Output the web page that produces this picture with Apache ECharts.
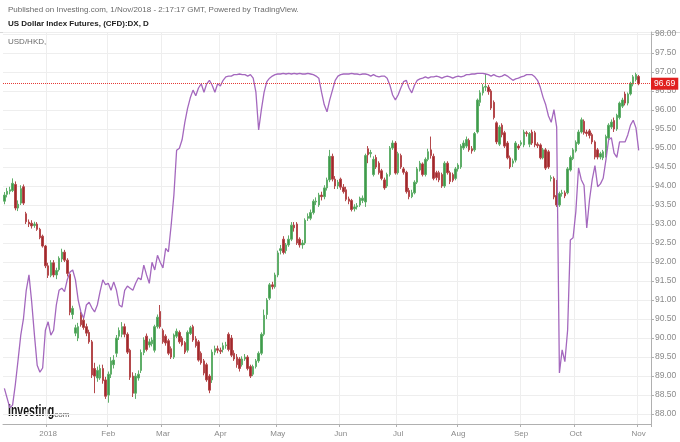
<!DOCTYPE html>
<html><head><meta charset="utf-8">
<script src="https://cdn.jsdelivr.net/npm/echarts@6/dist/echarts.min.js"></script>
<style>html,body{margin:0;padding:0;background:#fff}#c{width:680px;height:442px}</style>
</head><body><div id="c"></div>
<script>
// Trading days shown on the chart (year-month, day numbers)
const tradingDays = [
  ['2017-12', [7,8,11,12,13,14,15,18,19,20,21,22,26,27,28,29]],
  ['2018-01', [2,3,4,5,8,9,10,11,12,15,16,17,18,19,22,23,24,25,26,29,30,31]],
  ['2018-02', [1,2,5,6,7,8,9,12,13,14,15,16,19,20,21,22,23,26,27,28]],
  ['2018-03', [1,2,5,6,7,8,9,12,13,14,15,16,19,20,21,22,23,26,27,28,29]],
  ['2018-04', [2,3,4,5,6,9,10,11,12,13,16,17,18,19,20,23,24,25,26,27,30]],
  ['2018-05', [1,2,3,4,7,8,9,10,11,14,15,16,17,18,21,22,23,24,25,28,29,30,31]],
  ['2018-06', [1,4,5,6,7,8,11,12,13,14,15,18,19,20,21,22,25,26,27,28,29]],
  ['2018-07', [2,3,4,5,6,9,10,11,12,13,16,17,18,19,20,23,24,25,26,27,30,31]],
  ['2018-08', [1,2,3,6,7,8,9,10,13,14,15,16,17,20,21,22,23,24,27,28,29,30,31]],
  ['2018-09', [3,4,5,6,7,10,11,12,13,14,17,18,19,20,21,24,25,26,27,28]],
  ['2018-10', [1,2,3,4,5,8,9,10,11,12,15,16,17,18,19,22,23,24,25,26,29,30,31]],
  ['2018-11', [1,2,5,6,7]]
];
// month tick labels
const monthTickLabels = {'01':'2018','02':'Feb','03':'Mar','04':'Apr','05':'May','06':'Jun','07':'Jul','08':'Aug','09':'Sep','10':'Oct','11':'Nov'};

// US Dollar Index Futures daily candles: [open, close, low, high]
const dxCandles = [
[93.60,93.76,93.52,93.84],[93.78,93.86,93.70,93.95],[93.86,93.90,93.78,93.98],[93.88,94.07,93.84,94.20],
[94.04,93.42,93.36,94.12],[93.42,93.52,93.34,93.62],[93.55,93.93,93.50,94.02],[93.98,93.55,93.50,94.04],
[93.27,93.06,93.00,93.32],[93.05,93.00,92.92,93.12],[93.02,92.95,92.88,93.10],[92.96,93.00,92.90,93.06],
[93.00,92.86,92.82,93.05],[92.86,92.64,92.60,92.90],[92.68,92.42,92.38,92.72],[92.42,91.90,91.84,92.45],
[91.90,91.65,91.58,91.98],[91.65,91.98,91.60,92.05],[91.98,91.66,91.60,92.05],[91.66,91.78,91.55,91.85],
[91.80,92.10,91.75,92.15],[92.08,92.26,92.00,92.35],[92.26,92.05,92.00,92.32],[92.05,91.70,91.62,92.10],
[91.68,90.68,90.60,91.72],[90.62,90.78,90.50,90.85],[90.13,90.27,90.05,90.35],[90.00,90.30,89.92,90.40],
[90.62,90.35,90.30,90.70],[90.47,90.28,90.22,90.55],[90.30,90.13,90.05,90.38],[90.15,89.90,89.85,90.22],
[89.90,89.03,88.95,89.95],[89.20,89.00,88.55,89.35],[88.95,89.15,88.85,89.25],[88.95,89.20,88.90,89.30],
[89.20,88.88,88.80,89.30],[88.90,88.47,88.40,88.98],
[88.50,89.05,88.30,89.12],[89.05,89.40,88.95,89.50],[89.30,89.42,89.20,89.55],[89.60,90.00,89.50,90.08],
[90.05,90.20,89.95,90.28],[90.10,90.30,90.02,90.42],[90.30,90.10,90.02,90.38],[90.10,89.63,89.58,90.15],
[89.68,88.97,88.90,89.72],[89.00,88.55,88.45,89.10],[88.55,89.00,88.40,89.08],[88.95,89.05,88.88,89.15],
[89.15,89.62,89.08,89.70],[89.62,89.95,89.55,90.02],[90.05,89.70,89.65,90.12],[89.82,89.90,89.75,89.98],
[89.85,89.95,89.78,90.02],[89.68,90.30,89.62,90.35],[90.30,90.55,90.25,90.62],[90.70,90.30,90.25,90.87],
[90.20,89.90,89.85,90.25],[90.05,89.87,89.80,90.10],[89.93,89.60,89.55,89.98],[89.72,89.50,89.45,89.78],
[89.50,90.08,89.45,90.12],[90.05,90.18,90.00,90.25],[90.15,89.90,89.85,90.20],[90.00,89.82,89.78,90.05],
[89.88,89.63,89.58,89.92],[89.68,90.15,89.62,90.20],[90.12,90.27,90.08,90.32],[90.30,89.95,89.90,90.35],
[89.98,89.80,89.75,90.05],[89.90,89.42,89.38,89.95],[89.60,89.35,89.30,89.65],[89.40,89.08,89.02,89.45],
[89.30,88.90,88.85,89.35],[89.00,88.63,88.55,89.05],[88.90,89.63,88.82,89.70],[89.63,89.72,89.55,89.80],
[89.72,89.68,89.60,89.80],
[89.68,89.65,89.58,89.75],[89.70,89.80,89.62,89.88],[89.80,89.82,89.72,89.90],[90.10,89.70,89.65,90.15],
[90.00,89.55,89.50,90.08],[89.60,89.45,89.40,89.68],[89.50,89.30,89.22,89.58],[89.45,89.20,89.12,89.50],
[89.30,89.45,89.25,89.52],[89.45,89.50,89.40,89.58],[89.50,89.20,89.15,89.55],[89.25,89.00,88.95,89.30],
[89.05,89.25,89.00,89.30],[89.25,89.40,89.20,89.45],[89.40,89.60,89.35,89.65],[89.60,90.10,89.55,90.15],
[90.10,90.60,90.05,90.75],[90.62,91.00,90.50,91.05],[91.05,91.40,91.00,91.45],[91.40,91.35,91.28,91.48],
[91.35,91.66,91.30,91.72],
[91.66,92.24,91.60,92.30],[92.30,92.35,92.20,92.45],[92.60,92.25,92.20,92.68],[92.30,92.45,92.22,92.50],
[92.45,92.60,92.40,92.70],[92.60,92.97,92.55,93.05],[92.97,92.90,92.80,93.05],[93.00,92.50,92.45,93.05],
[92.60,92.45,92.38,92.65],[92.45,92.50,92.35,92.58],[92.50,93.10,92.45,93.15],[93.15,93.20,93.08,93.28],
[93.15,93.30,93.10,93.38],[93.30,93.60,93.25,93.65],[93.58,93.60,93.50,93.70],[93.50,93.76,93.45,93.82],
[93.76,93.72,93.62,93.85],[93.72,93.95,93.65,94.02],[93.95,94.16,93.88,94.22],[94.16,94.78,94.10,94.95],
[94.78,94.18,94.12,94.85],[94.18,94.00,93.92,94.26],[94.00,94.10,93.92,94.16],
[94.18,93.97,93.90,94.22],[93.97,93.85,93.80,94.05],[93.90,93.65,93.60,93.98],[93.66,93.60,93.52,93.72],
[93.62,93.38,93.33,93.66],[93.40,93.45,93.33,93.52],[93.45,93.48,93.38,93.55],[93.50,93.68,93.45,93.72],
[93.62,93.68,93.55,93.75],[93.58,94.80,93.45,94.85],[94.98,94.82,94.60,95.05],[94.85,94.88,94.75,94.95],
[94.30,94.70,94.25,94.78],[94.75,94.50,94.45,94.82],[94.60,94.35,94.30,94.65],[94.40,94.20,94.15,94.45],
[94.16,93.95,93.90,94.22],[94.00,94.30,93.95,94.35],[94.30,95.00,94.25,95.05],[95.00,95.13,94.95,95.20],
[95.13,94.34,94.30,95.18],
[94.35,94.85,94.30,94.90],[94.80,94.50,94.45,94.85],[94.45,94.36,94.30,94.50],[94.36,93.85,93.80,94.40],
[93.88,93.72,93.65,93.95],[93.72,93.82,93.68,93.90],[93.82,94.10,93.78,94.15],[94.10,94.45,94.05,94.50],
[94.42,94.60,94.38,94.66],[94.58,94.30,94.25,94.62],[94.30,94.70,94.25,94.75],[94.70,94.90,94.65,94.98],
[94.95,94.80,94.72,95.30],[94.78,94.20,94.15,94.85],[94.35,94.22,94.15,94.40],[94.35,94.16,94.10,94.40],
[94.30,94.00,93.95,94.35],[94.00,94.60,93.95,94.65],[94.60,94.35,94.30,94.65],[94.35,94.12,94.05,94.40],
[94.30,94.15,94.10,94.35],[94.20,94.45,94.15,94.50],
[94.45,94.55,94.38,94.60],[94.50,95.05,94.45,95.10],[95.00,95.13,94.95,95.20],[95.05,95.22,95.00,95.30],
[95.20,94.95,94.90,95.25],[94.98,94.92,94.85,95.05],[94.95,95.38,94.90,95.42],[95.42,96.26,95.38,96.30],
[96.20,96.45,96.10,96.52],[96.45,96.60,96.38,96.68],[96.60,96.62,96.50,96.95],[96.60,96.48,96.40,96.66],
[96.50,96.05,96.00,96.55],[96.20,95.80,95.75,96.25],[95.66,95.16,95.10,95.70],[95.10,95.55,95.05,95.60],
[95.60,95.35,95.28,95.65],[95.40,95.05,95.00,95.45],[95.13,94.74,94.70,95.18],[94.74,94.50,94.45,94.80],
[94.60,94.66,94.50,94.72],[94.68,95.13,94.62,95.18],[95.05,95.00,94.95,95.10],
[95.10,95.14,95.05,95.20],[95.08,95.42,95.02,95.48],[95.40,95.38,95.30,95.45],[95.10,95.38,95.02,95.42],
[95.42,95.13,95.08,95.48],[95.40,95.08,95.02,95.45],[95.10,95.06,95.00,95.15],[95.08,94.74,94.70,95.12],
[94.74,94.95,94.70,95.00],[94.95,94.47,94.42,95.00],[94.90,94.50,94.45,94.95],[94.20,94.22,94.12,94.28],
[94.20,93.71,93.65,94.25],[93.75,93.50,93.45,94.16],[93.50,93.80,93.45,93.85],[93.80,93.82,93.72,93.90],
[93.82,93.74,93.68,93.88],[93.82,94.45,93.78,94.50],[94.42,94.75,94.38,94.80],[94.72,94.95,94.68,95.00],
[94.92,95.15,94.88,95.20],[95.12,95.42,95.08,95.48],[95.42,95.74,95.38,95.80],[95.70,95.40,95.35,95.75],
[95.42,95.38,95.30,95.48],[95.45,95.33,95.25,95.50],[95.35,95.16,95.10,95.40],[95.16,94.76,94.70,95.20],
[94.95,94.76,94.70,95.00],[94.76,94.85,94.70,94.90],[94.74,94.90,94.68,94.95],[94.80,95.30,94.75,95.35],
[95.26,95.60,95.20,95.65],[95.55,95.68,95.50,95.75],[95.72,95.50,95.42,95.80],[95.50,95.86,95.45,95.90],
[95.80,96.18,95.75,96.22],[96.10,96.26,96.05,96.32],[96.42,96.18,96.12,96.48],[96.18,96.42,96.12,96.46],
[96.42,96.70,96.38,96.74],[96.68,96.87,96.62,96.92],[96.80,96.93,96.75,96.98],
[96.88,96.69,96.65,96.92]
];

// USD/HKD overlay (daily close)
const usdHkd = [
7.8051,7.8037,7.8023,7.8027,7.8056,7.8091,7.8127,7.8151,7.8191,7.8213,7.8174,7.8127,7.8084,7.8074,7.8080,7.8134,
7.8146,7.8127,7.8134,7.8170,7.8191,7.8194,7.8189,7.8206,7.8217,7.8220,7.8206,7.8177,7.8160,7.8151,7.8170,7.8174,7.8166,7.8160,7.8170,7.8189,7.8206,7.8199,
7.8201,7.8191,7.8203,7.8191,7.8170,7.8167,7.8191,7.8197,7.8194,7.8191,7.8201,7.8209,7.8206,7.8227,7.8213,7.8201,7.8231,7.8220,7.8241,7.8231,
7.8223,7.8251,7.8246,7.8284,7.8327,7.8391,7.8394,7.8406,7.8431,7.8451,7.8466,7.8477,7.8469,7.8480,7.8486,7.8474,7.8486,7.8491,7.8484,7.8474,7.8486,
7.8483,7.8491,7.8496,7.8497,7.8497,7.8499,7.8499,7.8500,7.8499,7.8499,7.8497,7.8499,7.8494,7.8474,7.8420,7.8449,7.8474,7.8489,7.8494,7.8497,7.8499,
7.8500,7.8500,7.8501,7.8500,7.8501,7.8500,7.8501,7.8500,7.8501,7.8500,7.8500,7.8501,7.8500,7.8499,7.8497,7.8494,7.8474,7.8456,7.8446,7.8463,7.8477,7.8491,7.8497,
7.8499,7.8500,7.8500,7.8500,7.8501,7.8500,7.8500,7.8499,7.8500,7.8500,7.8499,7.8497,7.8499,7.8497,7.8496,7.8497,7.8497,7.8494,7.8484,7.8470,7.8463,
7.8470,7.8480,7.8489,7.8491,7.8480,7.8473,7.8484,7.8491,7.8493,7.8494,7.8496,7.8494,7.8496,7.8496,7.8497,7.8496,7.8494,7.8496,7.8497,7.8496,7.8494,7.8496,
7.8497,7.8496,7.8497,7.8499,7.8499,7.8500,7.8500,7.8501,7.8501,7.8501,7.8500,7.8499,7.8497,7.8499,7.8497,7.8496,7.8497,7.8499,7.8497,7.8494,7.8491,7.8493,7.8494,
7.8496,7.8497,7.8499,7.8499,7.8499,7.8496,7.8491,7.8481,7.8467,7.8456,7.8440,7.8431,7.8449,7.8424,7.8073,7.8106,7.8089,7.8134,7.8263,7.8266,
7.8303,7.8366,7.8349,7.8341,7.8280,7.8320,7.8349,7.8369,7.8339,7.8343,7.8351,7.8377,7.8406,7.8409,7.8387,7.8381,7.8403,7.8403,7.8403,7.8413,7.8427,7.8434,7.8423,
7.8391
];
const lastPrice = 96.69;

const categories = [];
tradingDays.forEach(([ym, days]) => days.forEach(d => categories.push(ym + '-' + String(d).padStart(2, '0'))));
const candleData = categories.map((c, i) => i < dxCandles.length ? dxCandles[i] : '-');
const lineData = categories.map((c, i) => i < usdHkd.length ? usdHkd[i] : null);

function isMonthStart(idx) {
  if (idx === 0) return false;
  return categories[idx].slice(0, 7) !== categories[idx - 1].slice(0, 7);
}

const FONT = '"Liberation Sans", Arial, sans-serif';
const chart = echarts.init(document.getElementById('c'), null, {renderer: 'canvas'});
chart.setOption({
  animation: false,
  backgroundColor: '#ffffff',
  grid: {left: 3, right: 29, top: 32, bottom: 18, containLabel: false, outerBoundsMode: 'none'},
  xAxis: {
    type: 'category', data: categories, boundaryGap: true,
    axisLine: {show: true, lineStyle: {color: '#b0b0b0', width: 1}},
    axisTick: {show: true, interval: (i) => isMonthStart(i), length: 3, lineStyle: {color: '#b0b0b0'}},
    axisLabel: {interval: (i) => isMonthStart(i), formatter: (v) => monthTickLabels[v.slice(5, 7)],
      color: '#8a8a8a', fontSize: 8, fontFamily: FONT, margin: 6},
    splitLine: {show: true, interval: (i) => isMonthStart(i), lineStyle: {color: '#eeeeee', width: 1}}
  },
  yAxis: [{
    type: 'value', position: 'right', min: 87.74, max: 98.05, splitNumber: 20, minInterval: 0.5, maxInterval: 0.5,
    scale: true,
    axisLine: {show: true, lineStyle: {color: '#b0b0b0'}},
    axisTick: {show: true, inside: false, length: 3, lineStyle: {color: '#b0b0b0'}},
    axisLabel: {showMinLabel: false, showMaxLabel: false, color: '#8a8a8a', fontSize: 8.5, fontFamily: FONT, margin: 4,
      formatter: (v) => v.toFixed(2)},
    splitLine: {show: true, lineStyle: {color: '#eeeeee', width: 1}}
  }, {
    type: 'value', min: 7.800, max: 7.856, show: false
  }],
  series: [{
    type: 'candlestick', name: 'DX', data: candleData, barWidth: 2,
    itemStyle: {color: '#3f9a4c', color0: '#a0292c', borderColor: '#5fae69', borderColor0: '#b4484b', borderWidth: 1},
    markLine: {
      silent: true, symbol: ['none', 'none'],
      lineStyle: {color: '#e53935', type: 'dotted', width: 1},
      label: {show: true, position: 'end', distance: 0, formatter: lastPrice.toFixed(2), color: '#ffffff',
        backgroundColor: '#e0201f', padding: [2, 3, 1, 3], fontSize: 8.5, fontFamily: FONT},
      data: [{yAxis: lastPrice}]
    }
  }, {
    type: 'line', name: 'USD/HKD', yAxisIndex: 1, data: lineData, showSymbol: false, symbol: 'none',
    lineStyle: {color: '#a468be', width: 1.3}, z: 3
  }],
  graphic: [
    {type: 'line', shape: {x1: 0, y1: 32.5, x2: 680, y2: 32.5}, style: {stroke: '#d8d8d8', lineWidth: 1}, silent: true},
    {type: 'text', x: 8, y: 10, style: {text: 'Published on Investing.com, 1/Nov/2018 - 2:17:17 GMT, Powered by TradingView.',
      fill: '#6a6a6a', font: '8px ' + FONT, verticalAlign: 'middle'}},
    {type: 'text', x: 8, y: 24, style: {text: 'US Dollar Index Futures, (CFD):DX, D',
      fill: '#222222', font: 'bold 8px ' + FONT, verticalAlign: 'middle'}},
    {type: 'text', x: 8, y: 42, style: {text: 'USD/HKD,', fill: '#6a6a6a', font: '8px ' + FONT, verticalAlign: 'middle'}},
    {type: 'text', x: 8, y: 411, scaleX: 0.62, style: {text: 'Investing', fill: '#111111', font: 'bold 17px ' + FONT, verticalAlign: 'middle'}},
    {type: 'text', x: 52, y: 415, style: {text: '.com', fill: '#555555', font: '8px ' + FONT, verticalAlign: 'middle'}}
  ]
});
</script>
</body></html>
